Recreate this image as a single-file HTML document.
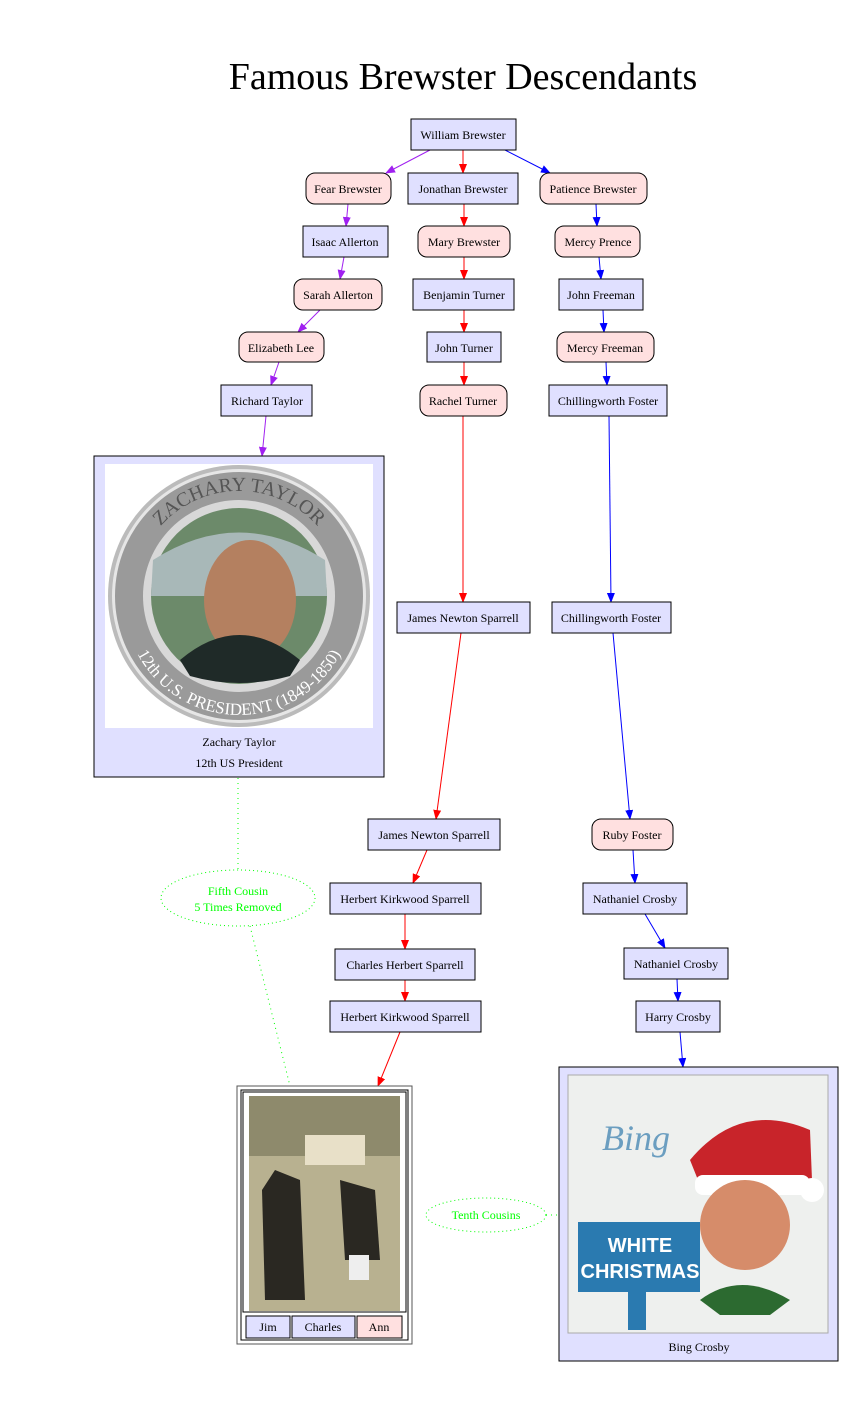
<!DOCTYPE html>
<html><head><meta charset="utf-8"><style>body{margin:0;background:#fff}svg{display:block}text{font-family:"Liberation Serif",serif;font-size:12px;fill:#000}</style></head>
<body>
<svg width="861" height="1428" viewBox="0 0 861 1428" xmlns="http://www.w3.org/2000/svg">
<defs>
<marker id="ap" markerWidth="10" markerHeight="8" refX="9" refY="4" orient="auto" markerUnits="userSpaceOnUse"><path d="M0,0L10,4L0,8z" fill="#a020f0"/></marker>
<marker id="ar" markerWidth="10" markerHeight="8" refX="9" refY="4" orient="auto" markerUnits="userSpaceOnUse"><path d="M0,0L10,4L0,8z" fill="#f00"/></marker>
<marker id="ab" markerWidth="10" markerHeight="8" refX="9" refY="4" orient="auto" markerUnits="userSpaceOnUse"><path d="M0,0L10,4L0,8z" fill="#00f"/></marker>
<path id="arcTop" d="M134,596 A105,105 0 0 1 344,596"/>
<path id="arcBot" d="M124,600 A115,115 0 0 0 354,600"/>
</defs>
<text x="463" y="89" text-anchor="middle" style="font-size:38px">Famous Brewster Descendants</text>

<g stroke-width="1" fill="none">
<g stroke="#a020f0" marker-end="url(#ap)">
<line x1="430" y1="150" x2="386" y2="173"/>
<line x1="348" y1="204" x2="346" y2="226"/>
<line x1="344" y1="257" x2="340" y2="279"/>
<line x1="320" y1="310" x2="298" y2="332"/>
<line x1="279" y1="362" x2="271" y2="385"/>
<line x1="266" y1="416" x2="262" y2="456"/>
</g>
<g stroke="#f00" marker-end="url(#ar)">
<line x1="463" y1="150" x2="463" y2="173"/>
<line x1="464" y1="204" x2="464" y2="226"/>
<line x1="464" y1="257" x2="464" y2="279"/>
<line x1="464" y1="310" x2="464" y2="332"/>
<line x1="464" y1="362" x2="464" y2="385"/>
<line x1="463" y1="416" x2="463" y2="602"/>
<line x1="461" y1="633" x2="436" y2="819"/>
<line x1="427" y1="850" x2="413" y2="883"/>
<line x1="405" y1="914" x2="405" y2="949"/>
<line x1="405" y1="980" x2="405" y2="1001"/>
<line x1="400" y1="1032" x2="378" y2="1086"/>
</g>
<g stroke="#00f" marker-end="url(#ab)">
<line x1="505" y1="150" x2="550" y2="173"/>
<line x1="596" y1="204" x2="597" y2="226"/>
<line x1="599" y1="257" x2="601" y2="279"/>
<line x1="603" y1="310" x2="604" y2="332"/>
<line x1="606" y1="362" x2="607" y2="385"/>
<line x1="609" y1="416" x2="611" y2="602"/>
<line x1="613" y1="633" x2="630" y2="819"/>
<line x1="633" y1="850" x2="635" y2="883"/>
<line x1="645" y1="914" x2="665" y2="948"/>
<line x1="677" y1="979" x2="678" y2="1001"/>
<line x1="680" y1="1032" x2="683" y2="1067"/>
</g>
<g stroke="#0f0" stroke-dasharray="1,4">
<line x1="238" y1="778" x2="238" y2="870"/>
<line x1="250" y1="926" x2="290" y2="1086"/>
<line x1="546" y1="1215" x2="559" y2="1215"/>
</g>
</g>

<g stroke="#000" fill="#e0e0ff">
<rect x="411" y="119" width="105" height="31"/>
<rect x="408" y="173" width="110" height="31"/>
<rect x="303" y="226" width="85" height="31"/>
<rect x="413" y="279" width="101" height="31"/>
<rect x="559" y="279" width="84" height="31"/>
<rect x="427" y="332" width="74" height="30"/>
<rect x="221" y="385" width="91" height="31"/>
<rect x="549" y="385" width="118" height="31"/>
<rect x="397" y="602" width="133" height="31"/>
<rect x="552" y="602" width="119" height="31"/>
<rect x="368" y="819" width="132" height="31"/>
<rect x="330" y="883" width="151" height="31"/>
<rect x="583" y="883" width="104" height="31"/>
<rect x="335" y="949" width="140" height="31"/>
<rect x="624" y="948" width="104" height="31"/>
<rect x="330" y="1001" width="151" height="31"/>
<rect x="636" y="1001" width="84" height="31"/>
<rect x="94" y="456" width="290" height="321"/>
<rect x="559" y="1067" width="279" height="294"/>
</g>
<g stroke="#000" fill="#ffe0e0">
<rect x="306" y="173" width="85" height="31" rx="9"/>
<rect x="540" y="173" width="107" height="31" rx="9"/>
<rect x="418" y="226" width="92" height="31" rx="9"/>
<rect x="555" y="226" width="85" height="31" rx="9"/>
<rect x="294" y="279" width="88" height="31" rx="9"/>
<rect x="239" y="332" width="85" height="30" rx="9"/>
<rect x="557" y="332" width="97" height="30" rx="9"/>
<rect x="420" y="385" width="87" height="31" rx="9"/>
<rect x="592" y="819" width="81" height="31" rx="9"/>
</g>

<g text-anchor="middle">
<text x="463" y="139">William Brewster</text>
<text x="348" y="193">Fear Brewster</text>
<text x="463" y="193">Jonathan Brewster</text>
<text x="593" y="193">Patience Brewster</text>
<text x="345" y="246">Isaac Allerton</text>
<text x="464" y="246">Mary Brewster</text>
<text x="598" y="246">Mercy Prence</text>
<text x="338" y="299">Sarah Allerton</text>
<text x="464" y="299">Benjamin Turner</text>
<text x="601" y="299">John Freeman</text>
<text x="281" y="352">Elizabeth Lee</text>
<text x="464" y="352">John Turner</text>
<text x="605" y="352">Mercy Freeman</text>
<text x="267" y="405">Richard Taylor</text>
<text x="463" y="405">Rachel Turner</text>
<text x="608" y="405">Chillingworth Foster</text>
<text x="463" y="622">James Newton Sparrell</text>
<text x="611" y="622">Chillingworth Foster</text>
<text x="434" y="839">James Newton Sparrell</text>
<text x="632" y="839">Ruby Foster</text>
<text x="405" y="903">Herbert Kirkwood Sparrell</text>
<text x="635" y="903">Nathaniel Crosby</text>
<text x="405" y="969">Charles Herbert Sparrell</text>
<text x="676" y="968">Nathaniel Crosby</text>
<text x="405" y="1021">Herbert Kirkwood Sparrell</text>
<text x="678" y="1021">Harry Crosby</text>
<text x="239" y="746">Zachary Taylor</text>
<text x="239" y="767">12th US President</text>
<text x="699" y="1351">Bing Crosby</text>
</g>

<!-- Zachary coin -->
<rect x="105" y="464" width="268" height="264" fill="#fff"/>
<circle cx="239" cy="596" r="131" fill="#bbb"/>
<circle cx="239" cy="596" r="127" fill="#e6e6e6"/>
<circle cx="239" cy="596" r="124" fill="#9a9a9a"/>
<circle cx="239" cy="596" r="96" fill="#d8d8d8"/>
<circle cx="239" cy="596" r="88" fill="#6c8a6a"/>
<path d="M153,560 Q239,505 325,560 L327,596 L151,596z" fill="#a8b8b8"/>
<ellipse cx="250" cy="600" rx="46" ry="60" fill="#b48060"/>
<path d="M180,660 Q239,610 300,660 L290,676 Q239,690 190,676z" fill="#1f2a28"/>
<text style="font-size:20px;fill:#555" text-anchor="middle"><textPath href="#arcTop" startOffset="50%">ZACHARY TAYLOR</textPath></text>
<text style="font-size:17px;fill:#fff" text-anchor="middle"><textPath href="#arcBot" startOffset="50%">12th U.S. PRESIDENT (1849-1850)</textPath></text>

<!-- photo frame -->
<rect x="237" y="1086" width="175" height="258" fill="#fff" stroke="#555"/>
<rect x="241" y="1090" width="167" height="250" fill="#fff" stroke="#000"/>
<rect x="243" y="1092" width="163" height="220" fill="none" stroke="#000"/>
<rect x="249" y="1096" width="151" height="215" fill="#b8b190"/>
<rect x="249" y="1096" width="151" height="60" fill="#8e8a6c"/>
<rect x="305" y="1135" width="60" height="30" fill="#e8e0c8"/>
<path d="M275,1170 L300,1180 L305,1300 L265,1300 L262,1190z" fill="#2a2822"/>
<path d="M340,1180 L375,1190 L380,1260 L345,1260z" fill="#2a2822"/>
<rect x="349" y="1255" width="20" height="25" fill="#eee"/>
<g stroke="#000">
<rect x="246" y="1316" width="44" height="22" fill="#e0e0ff"/>
<rect x="292" y="1316" width="63" height="22" fill="#e0e0ff"/>
<rect x="357" y="1316" width="45" height="22" fill="#ffe0e0"/>
</g>
<text x="268" y="1331" text-anchor="middle">Jim</text>
<text x="323" y="1331" text-anchor="middle">Charles</text>
<text x="379" y="1331" text-anchor="middle">Ann</text>

<!-- Bing -->
<rect x="568" y="1075" width="260" height="258" fill="#eef0ee" stroke="#aaa"/>
<text x="636" y="1150" text-anchor="middle" style="font-size:36px;font-style:italic;fill:#6b9ec0">Bing</text>
<path d="M690,1160 Q740,1100 810,1130 L812,1180 L700,1185z" fill="#c8242a"/>
<rect x="695" y="1175" width="115" height="20" rx="8" fill="#fff"/>
<circle cx="812" cy="1190" r="12" fill="#fff"/>
<ellipse cx="745" cy="1225" rx="45" ry="45" fill="#d68c6a"/>
<rect x="578" y="1222" width="122" height="70" fill="#2a7ab0"/>
<rect x="628" y="1290" width="18" height="40" fill="#2a7ab0"/>
<text x="640" y="1252" text-anchor="middle" style="font-family:'Liberation Sans',sans-serif;font-size:20px;font-weight:bold;fill:#fff">WHITE</text>
<text x="640" y="1278" text-anchor="middle" style="font-family:'Liberation Sans',sans-serif;font-size:20px;font-weight:bold;fill:#fff">CHRISTMAS</text>
<path d="M700,1300 Q740,1270 790,1300 L770,1315 L720,1315z" fill="#2c6a30"/>

<!-- cousin ellipses -->
<ellipse cx="238" cy="898" rx="77" ry="28" fill="none" stroke="#0f0" stroke-dasharray="1,3"/>
<text x="238" y="895" text-anchor="middle" style="fill:#0f0">Fifth Cousin</text>
<text x="238" y="911" text-anchor="middle" style="fill:#0f0">5 Times Removed</text>
<ellipse cx="486" cy="1215" rx="60" ry="17" fill="none" stroke="#0f0" stroke-dasharray="1,3"/>
<text x="486" y="1219" text-anchor="middle" style="fill:#0f0">Tenth Cousins</text>
</svg>
</body></html>
